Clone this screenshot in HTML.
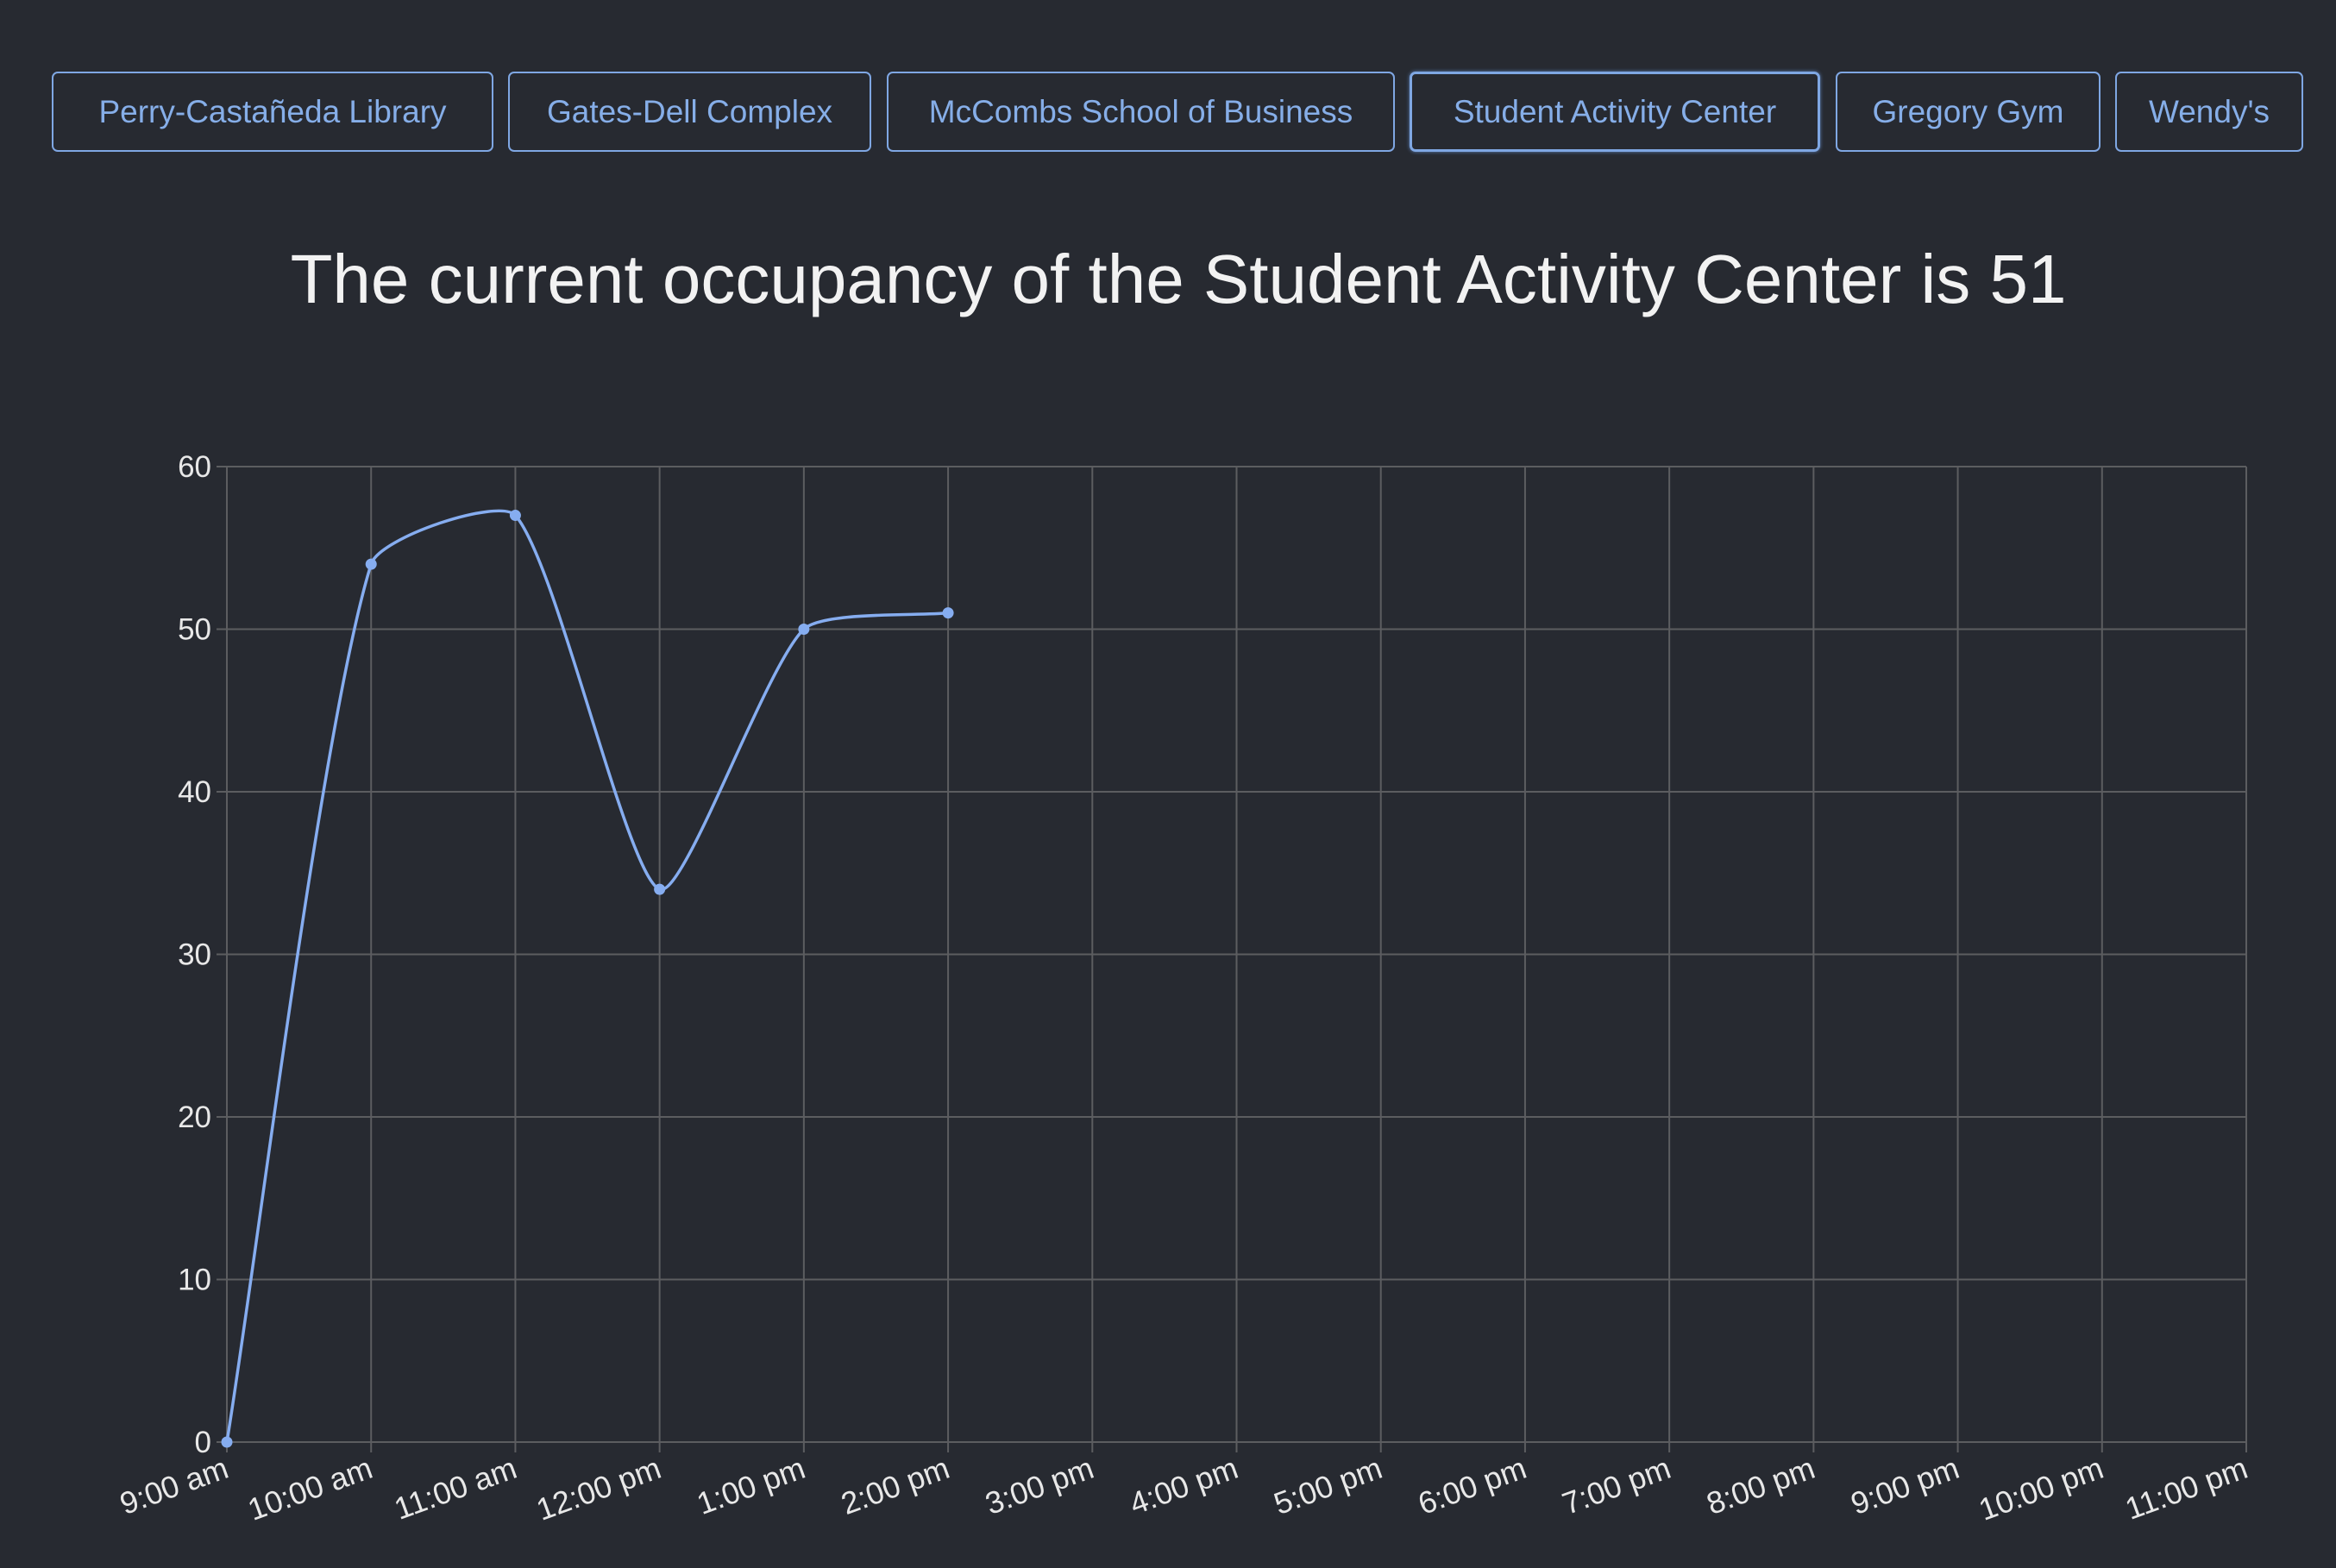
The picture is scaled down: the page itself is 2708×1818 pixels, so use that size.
<!DOCTYPE html>
<html><head><meta charset="utf-8"><style>
html,body{margin:0;padding:0;background:#272a31;width:2708px;height:1818px;overflow:hidden;font-family:"Liberation Sans",sans-serif}
.btn{position:absolute;top:83px;height:93px;box-sizing:border-box;border:2px solid #7fa7e3;border-radius:7px;color:#86aee8;font-size:37px;display:flex;align-items:center;justify-content:center;white-space:nowrap;background:transparent}
.btn.active{border-width:3px;box-shadow:0 0 4px #5d82bb}
#title{position:absolute;left:0;width:2732px;top:278px;text-align:center;color:#f2f2f2;font-size:80px;white-space:nowrap}
svg{position:absolute;left:0;top:0}
</style></head><body>
<div class="btn" style="left:60px;width:512px">Perry-Castañeda Library</div>
<div class="btn" style="left:589px;width:421px">Gates-Dell Complex</div>
<div class="btn" style="left:1028px;width:589px">McCombs School of Business</div>
<div class="btn active" style="left:1634px;width:476px">Student Activity Center</div>
<div class="btn" style="left:2128px;width:307px">Gregory Gym</div>
<div class="btn" style="left:2452px;width:218px">Wendy's</div>
<div id="title">The current occupancy of the Student Activity Center is 51</div>
<svg id="chart" width="2708" height="1818"></svg>
<script>
const categories=["9:00 am","10:00 am","11:00 am","12:00 pm","1:00 pm","2:00 pm","3:00 pm","4:00 pm","5:00 pm","6:00 pm","7:00 pm","8:00 pm","9:00 pm","10:00 pm","11:00 pm"];
const occupancy=[0,54,57,34,50,51];
const yTicks=[0,10,20,30,40,50,60];
const NS="http://www.w3.org/2000/svg";
const svg=document.getElementById('chart');
const L=263,R=2604,T=541,B=1672,yMax=60;
function xs(i){return L+(R-L)*i/(categories.length-1);}
function ys(v){return B-(B-T)*v/yMax;}
function mk(t,a,p){const e=document.createElementNS(NS,t);for(const k in a)e.setAttribute(k,a[k]);(p||svg).appendChild(e);return e;}
yTicks.forEach(v=>{
 const l=mk('line',{x1:L-12,x2:R,y1:ys(v),y2:ys(v),stroke:'#5c5d60','stroke-width':2});
 
 
 const t=mk('text',{x:L-18,y:ys(v)+12,'text-anchor':'end',fill:'#e8e8e8','font-size':35,'font-family':'Liberation Sans, sans-serif'});
 t.textContent=v;
 
 
});
categories.forEach((c,i)=>{
 const x=xs(i);
 const l=mk('line',{x1:x,x2:x,y1:T,y2:B+12,stroke:'#5c5d60','stroke-width':2});
 
 
 const t=mk('text',{x:0,y:0,'text-anchor':'end',fill:'#e8e8e8','font-size':36,'font-family':'Liberation Sans, sans-serif',transform:`translate(${x+4},${B+40}) rotate(-20)`});
 t.textContent=c;
 
 
});
const pts=occupancy.map((v,i)=>({x:xs(i),y:ys(v)}));
const tension=0.2;
function cps(p0,p1,p2){
 const d01=Math.hypot(p1.x-p0.x,p1.y-p0.y),d12=Math.hypot(p2.x-p1.x,p2.y-p1.y);
 let fa=d01/(d01+d12)||0,fb=d12/(d01+d12)||0;fa*=tension;fb*=tension;
 return {p:{x:p1.x-fa*(p2.x-p0.x),y:p1.y-fa*(p2.y-p0.y)},n:{x:p1.x+fb*(p2.x-p0.x),y:p1.y+fb*(p2.y-p0.y)}};
}
const cp=pts.map((p,i)=>cps(pts[Math.max(i-1,0)],p,pts[Math.min(i+1,pts.length-1)]));
let d=`M${pts[0].x},${pts[0].y}`;
for(let i=1;i<pts.length;i++){d+=` C${cp[i-1].n.x},${cp[i-1].n.y} ${cp[i].p.x},${cp[i].p.y} ${pts[i].x},${pts[i].y}`;}
const line=mk('path',{d:d,fill:'none',stroke:'#86adf0','stroke-width':3.5});


pts.forEach(p=>{
 const c=mk('circle',{cx:p.x,cy:p.y,r:6.5,fill:'#86adf0'});
 
 
});
</script>
</body></html>
